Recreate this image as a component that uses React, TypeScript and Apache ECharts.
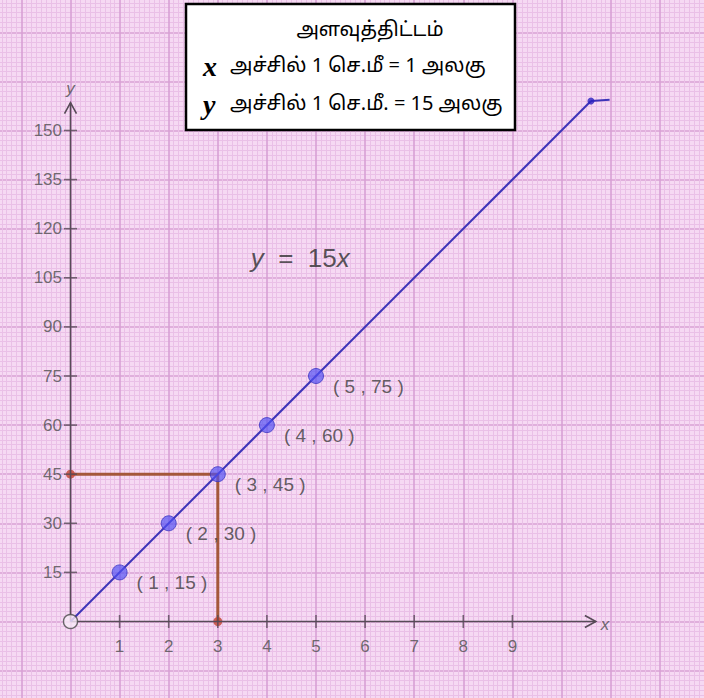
import React, { useEffect, useRef } from "react";
import * as echarts from "echarts";

// ---- data ----
const xTickValues = [1, 2, 3, 4, 5, 6, 7, 8, 9];
const yTickValues = [15, 30, 45, 60, 75, 90, 105, 120, 135, 150];
const pointX = [1, 2, 3, 4, 5];
const pointY = [15, 30, 45, 60, 75];
const lineX = [0, 10.6];
const lineY = [0, 159];
const tailX = [10.6, 10.98];
const tailY = [159, 159.4];
const projX = [0, 3, 3];
const projY = [45, 45, 0];
const dotX = [0, 3];
const dotY = [45, 0];
const xAxisEnd = 10.7;
const yAxisEnd = 158.5;
const equationX = 3.67;
const equationY = 111;
const scaleTitle = "அளவுத்திட்டம்";
const scaleVars = ["x", "y"];
const scaleTexts = ["அச்சில் 1 செ.மீ = 1 அலகு", "அச்சில் 1 செ.மீ. = 15 அலகு"];

const AXIS_COLOR = "#574b57";
const LABEL_COLOR = "#4d4d4d";
const FONT = "'Liberation Sans', Arial, sans-serif";
const TAMIL_FONT = "'Noto Sans Tamil', 'Noto Sans', 'Liberation Sans', sans-serif";

export default function App() {
  const ref = useRef<HTMLDivElement>(null);
  useEffect(() => {
    if (!ref.current) return;
    const chart = echarts.init(ref.current, null, { renderer: "svg" });
    const paperAxis = (min: number, max: number, interval: number) => ({
      type: "value",
      min,
      max,
      interval,
      axisLine: { show: false },
      axisTick: { show: false },
      axisLabel: { show: false },
      splitLine: { show: true, lineStyle: { color: "#d8a0d5", width: 1.6 } },
      minorTick: { show: false, splitNumber: 10 },
      minorSplitLine: { show: true, lineStyle: { color: "#eac0e7", width: 1 } },
    });
    const option: any = {
      animation: false,
      backgroundColor: "#f6d9f3",
      grid: {
        left: -27.7,
        right: -4.8,
        top: -16.8,
        bottom: -21.7,
        containLabel: false,
        outerBoundsMode: "none",
      },
      xAxis: paperAxis(-2, 13, 1),
      yAxis: paperAxis(-30, 195, 15),
      series: [
        {
          type: "line",
          name: "projection",
          data: projX.map((x, i) => [x, projY[i]]),
          symbol: "none",
          lineStyle: { color: "#a4573a", width: 3 },
          z: 2,
        },
        {
          type: "scatter",
          name: "projDots",
          data: dotX.map((x, i) => [x, dotY[i]]),
          symbol: "circle",
          symbolSize: 9,
          itemStyle: { color: "#c2402e" },
          z: 2,
        },
        {
          type: "line",
          name: "xAxisLine",
          data: [[0, 0], [xAxisEnd, 0]],
          symbol: "none",
          lineStyle: { color: AXIS_COLOR, width: 1.6 },
          z: 3,
        },
        {
          type: "line",
          name: "yAxisLine",
          data: [[0, 0], [0, yAxisEnd]],
          symbol: "none",
          lineStyle: { color: AXIS_COLOR, width: 1.6 },
          z: 3,
        },
        {
          type: "custom",
          name: "arrows",
          data: [[xAxisEnd, 0, 0], [0, yAxisEnd, 1]],
          encode: { x: 0, y: 1 },
          z: 3,
          renderItem: (params: any, api: any) => {
            const p = api.coord([api.value(0), api.value(1)]);
            const dir = api.value(2);
            const pts =
              dir === 0
                ? [[p[0] - 11, p[1] - 6], [p[0], p[1]], [p[0] - 11, p[1] + 6]]
                : [[p[0] - 6, p[1] + 11], [p[0], p[1]], [p[0] + 6, p[1] + 11]];
            return {
              type: "polyline",
              shape: { points: pts },
              style: { stroke: AXIS_COLOR, lineWidth: 1.6, fill: null },
            };
          },
        },
        {
          type: "scatter",
          name: "xAxisName",
          data: [[xAxisEnd, 0]],
          symbolSize: 0,
          label: {
            show: true,
            formatter: "x",
            position: "right",
            distance: 5,
            offset: [0, 3],
            fontSize: 17,
            fontStyle: "italic",
            fontFamily: FONT,
            color: LABEL_COLOR,
          },
          z: 3,
        },
        {
          type: "scatter",
          name: "yAxisName",
          data: [[0, yAxisEnd]],
          symbolSize: 0,
          label: {
            show: true,
            formatter: "y",
            position: "top",
            distance: 6,
            fontSize: 17,
            fontStyle: "italic",
            fontFamily: FONT,
            color: LABEL_COLOR,
          },
          z: 3,
        },
        {
          type: "scatter",
          name: "xTicks",
          data: xTickValues.map((v) => [v, 0]),
          symbol: "rect",
          symbolSize: [1.6, 13],
          itemStyle: { color: AXIS_COLOR },
          label: {
            show: true,
            position: "bottom",
            distance: 10,
            formatter: (p: any) => String(p.value[0]),
            fontSize: 17,
            fontFamily: FONT,
            color: LABEL_COLOR,
          },
          z: 3,
        },
        {
          type: "scatter",
          name: "yTicks",
          data: yTickValues.map((v) => [0, v]),
          symbol: "rect",
          symbolSize: [13, 1.6],
          itemStyle: { color: AXIS_COLOR },
          label: {
            show: true,
            position: "left",
            distance: 2,
            formatter: (p: any) => String(p.value[1]),
            fontSize: 17,
            fontFamily: FONT,
            color: LABEL_COLOR,
          },
          z: 3,
        },
        {
          type: "line",
          name: "y = 15x",
          data: lineX.map((x, i) => [x, lineY[i]]),
          symbol: "none",
          lineStyle: { color: "#3d33b8", width: 2 },
          z: 4,
        },
        {
          type: "line",
          name: "tail",
          data: tailX.map((x, i) => [x, tailY[i]]),
          symbol: "none",
          lineStyle: { color: "#3d33b8", width: 2 },
          z: 4,
        },
        {
          type: "scatter",
          name: "tailDot",
          data: [[tailX[0], tailY[0]]],
          symbol: "circle",
          symbolSize: 7,
          itemStyle: { color: "#2c22c0" },
          z: 4,
        },
        {
          type: "scatter",
          name: "origin",
          data: [[0, 0]],
          symbol: "circle",
          symbolSize: 14,
          itemStyle: { color: "#f8e8f6", borderColor: "#4a4a4a", borderWidth: 1.4 },
          z: 5,
        },
        {
          type: "scatter",
          name: "points",
          data: pointX.map((x, i) => [x, pointY[i]]),
          symbol: "circle",
          symbolSize: 15,
          itemStyle: { color: "rgba(80,80,245,0.85)", borderColor: "#3b35c0", borderWidth: 1 },
          label: {
            show: true,
            position: "right",
            distance: 3,
            offset: [6, 10],
            formatter: (p: any) => `( ${p.value[0]} , ${p.value[1]} )`,
            fontSize: 19,
            fontFamily: FONT,
            color: "#3d3d3d",
          },
          z: 5,
        },
        {
          type: "scatter",
          name: "equation",
          data: [[equationX, equationY]],
          symbolSize: 0,
          label: {
            show: true,
            position: "right",
            distance: 0,
            formatter: "{i|y}  =  15{i|x}",
            fontSize: 26,
            fontFamily: FONT,
            color: "#2e2e2e",
            rich: {
              i: { fontStyle: "italic", fontSize: 26, fontFamily: FONT, color: "#2e2e2e" },
            },
          },
          z: 5,
        },
      ],
      graphic: [
        {
          type: "rect",
          shape: { x: 186, y: 4, width: 329, height: 126 },
          style: { fill: "#ffffff", stroke: "#000000", lineWidth: 2.5 },
          z: 100,
        },
        {
          type: "text",
          x: 370,
          y: 31,
          z: 101,
          style: {
            text: scaleTitle,
            fontSize: 20,
            fontFamily: TAMIL_FONT,
            fill: "#000",
            align: "center",
            verticalAlign: "middle",
          },
        },
        ...scaleVars.flatMap((v, i) => [
          {
            type: "text",
            x: 203,
            y: 66 + i * 38,
            z: 101,
            style: {
              text: v,
              fontSize: 28,
              fontStyle: "italic",
              fontWeight: "bold",
              fontFamily: "'Liberation Serif', 'Times New Roman', serif",
              fill: "#000",
              align: "left",
              verticalAlign: "middle",
            },
          },
          {
            type: "text",
            x: 230,
            y: 67 + i * 38,
            z: 101,
            style: {
              text: scaleTexts[i],
              fontSize: 20,
              fontFamily: TAMIL_FONT,
              fill: "#000",
              align: "left",
              verticalAlign: "middle",
            },
          },
        ]),
      ],
    };
    chart.setOption(option);
    return () => chart.dispose();
  }, []);
  return (
    <div
      ref={ref}
      style={{ position: "fixed", left: 0, top: 0, width: 704, height: 698 }}
    />
  );
}
